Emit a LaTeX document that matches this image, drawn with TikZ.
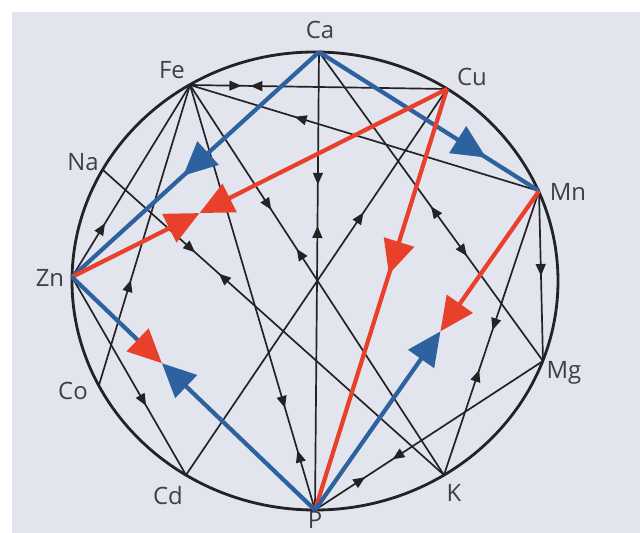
\documentclass[tikz,border=0pt]{standalone}
\usepackage{fontspec}
\setmainfont{Open Sans}
\usepackage{tikz}
\usepackage{xcolor}
\usetikzlibrary{arrows.meta,calc,positioning,decorations.markings}

\begin{document}
\begin{tikzpicture}[x=0.025cm,y=0.025cm,line width=1.2pt]
  \definecolor{wheelblue}{RGB}{46,98,158}
  \definecolor{wheelred}{RGB}{232,64,42}
  \definecolor{wheelink}{RGB}{35,35,38}
  \definecolor{wheeltext}{RGB}{64,64,68}
  \definecolor{paper}{RGB}{226,229,237}
  \tikzset{
    elab/.style={wheeltext,font=\fontsize{17}{17}\selectfont,inner sep=0pt},
    thinlink/.style={wheelink,line width=1.2pt},
    bluelink/.style={wheelblue,line width=3pt},
    redlink/.style={wheelred,line width=3pt},
    fwd/.style={postaction={decorate,decoration={markings,mark=at position #1 with {\arrow{Triangle[length=8.5pt,width=7pt]}}}}},
    bwd/.style={postaction={decorate,decoration={markings,mark=at position #1 with {\arrowreversed{Triangle[length=8.5pt,width=7pt]}}}}},
    bigfwd/.style={postaction={decorate,decoration={markings,mark=at position #1 with {\arrow{Triangle[length=24pt,width=22pt]}}}}}
  }
  \useasboundingbox (0,0) rectangle (640,533);
  \fill[paper] (12,0) rectangle (640,521);
  % points on the wheel
  \coordinate (hub) at (315,252);
  \coordinate (Ca) at (319,481);
  \coordinate (Cu) at (447,444);
  \coordinate (Mn) at (539,342);
  \coordinate (Mg) at (543,172);
  \coordinate (K) at (444,58);
  \coordinate (P) at (315,23);
  \coordinate (Cd) at (186,58);
  \coordinate (Co) at (99,148);
  \coordinate (Zn) at (72,256);
  \coordinate (Na) at (103,363);
  \coordinate (Fe) at (190,448);
  % black links
  \draw[thinlink,fwd=0.20,bwd=0.235] (Fe) -- (Cu);
  \draw[thinlink,bwd=0.30] (Fe) -- (Mn);
  \draw[thinlink,bwd=0.72] (Fe) -- (Zn);
  \draw[thinlink,bwd=0.65] (Fe) -- (Co);
  \draw[thinlink,fwd=0.76,bwd=0.86] (Fe) -- (P);
  \draw[thinlink,fwd=0.32,bwd=0.42] (Fe) -- (K);
  \draw[thinlink,fwd=0.29,bwd=0.38] (Ca) -- (P);
  \draw[thinlink,bwd=0.50,fwd=0.66] (Ca) -- (Mg);
  \draw[thinlink,fwd=0.50] (Mn) -- (Mg);
  \draw[thinlink,fwd=0.49,bwd=0.63] (Mn) -- (K);
  \draw[thinlink,fwd=0.66,bwd=0.78] (Mg) -- (P);
  \draw[thinlink,fwd=0.27,bwd=0.34] (Na) -- (K);
  \draw[thinlink,fwd=0.65] (Zn) -- (Cd);
  \draw[thinlink,bwd=0.32] (Cu) -- (Cd);
  \draw[wheelink,line width=2pt] (hub) ellipse [x radius=243,y radius=229];
  % coloured links
  \coordinate (ZnCu) at ($(Zn)!0.34!(Cu)$);
  \coordinate (ZnP) at ($(Zn)!0.37!(P)$);
  \coordinate (MnP) at ($(Mn)!0.44!(P)$);
  \draw[bluelink,bigfwd=0.55] (Ca) -- (Zn);
  \draw[bluelink,bigfwd=0.76] (Ca) -- (Mn);
  \draw[redlink,bigfwd=0.44] (Cu) -- (P);
  \draw[redlink,-{Triangle[length=24pt,width=22pt]}] (Zn) -- (ZnCu);
  \draw[redlink,-{Triangle[length=24pt,width=22pt]}] (Cu) -- (ZnCu);
  \draw[bluelink,-{Triangle[length=24pt,width=22pt,color=wheelred]}] (Zn) -- (ZnP);
  \draw[bluelink,-{Triangle[length=24pt,width=22pt]}] (P) -- (ZnP);
  \draw[redlink,-{Triangle[length=24pt,width=22pt]}] (Mn) -- (MnP);
  \draw[bluelink,-{Triangle[length=24pt,width=22pt]}] (P) -- (MnP);
  % labels
  \node[elab] (lCa) at (320,503) {Ca};
  \node[elab] (lCu) at (472,456) {Cu};
  \node[elab] (lMn) at (568,341) {Mn};
  \node[elab] (lMg) at (564,160) {Mg};
  \node[elab] (lK) at (454,40) {K};
  \node[elab] (lP) at (315,13) {P};
  \node[elab] (lCd) at (168,37) {Cd};
  \node[elab] (lCo) at (73,142) {Co};
  \node[elab] (lZn) at (50,255) {Zn};
  \node[elab] (lNa) at (83,371) {Na};
  \node[elab] (lFe) at (172,463) {Fe};
\end{tikzpicture}
\end{document}
